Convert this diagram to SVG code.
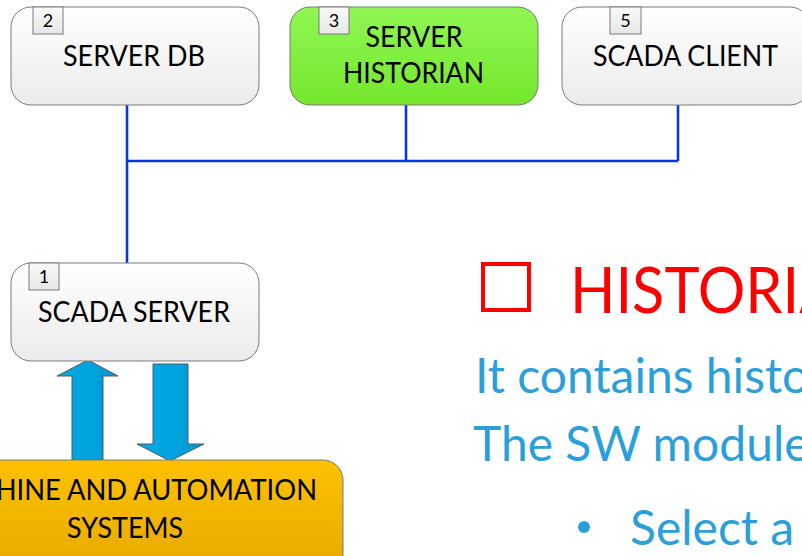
<svg xmlns="http://www.w3.org/2000/svg" width="802" height="556" viewBox="0 0 802 556">
  <defs>
    <linearGradient id="gWhite" x1="0" y1="0" x2="0" y2="1">
      <stop offset="0" stop-color="#ffffff"/>
      <stop offset="1" stop-color="#ebebeb"/>
    </linearGradient>
    <linearGradient id="gGreen" x1="0" y1="0" x2="0" y2="1">
      <stop offset="0" stop-color="#90f654"/>
      <stop offset="1" stop-color="#74e72c"/>
    </linearGradient>
    <linearGradient id="gGold" x1="0" y1="0" x2="0" y2="1">
      <stop offset="0" stop-color="#fdc100"/>
      <stop offset="1" stop-color="#e5a700"/>
    </linearGradient>
    <linearGradient id="gBadge" x1="0" y1="0" x2="0" y2="1">
      <stop offset="0" stop-color="#fafafa"/>
      <stop offset="1" stop-color="#e6e6e6"/>
    </linearGradient>
    <linearGradient id="gArrow" x1="0" y1="0" x2="1" y2="0">
      <stop offset="0" stop-color="#00a8e2"/>
      <stop offset="0.55" stop-color="#00a4de"/>
      <stop offset="1" stop-color="#0096cc"/>
    </linearGradient>
  </defs>
  <style>
    .box { stroke: #7a7a7a; stroke-width: 1; }
    .badge { fill: url(#gBadge); stroke: #7a7a7a; stroke-width: 1; }
    .num { font-family: Lato, "Open Sans", sans-serif; font-size: 18px; fill: #000; text-anchor: middle; }
    .lbl { font-family: Lato, "Open Sans", sans-serif; font-size: 28px; fill: #000; text-anchor: middle; }
    .wire { fill: none; stroke: #0a36d6; stroke-width: 2.6; }
    .arrow { fill: url(#gArrow); stroke: #4e5b63; stroke-width: 1; stroke-linejoin: miter; }
    .title { font-family: Lato, "Open Sans", sans-serif; font-size: 64px; fill: #ff0000; }
    .body { font-family: Lato, "Open Sans", sans-serif; font-size: 48px; fill: #2b9fd9; }
  </style>

  <!-- bus wiring between the servers -->
  <g id="connectors">
    <path class="wire" d="M127 105 V263"/>
    <path class="wire" d="M127 161 H678"/>
    <path class="wire" d="M406 105 V161"/>
    <path class="wire" d="M678 105 V161"/>
    <!-- data exchange arrows between field level and SCADA server -->
    <path class="arrow" d="M88 360 L118 376 L103 376 L103 460 L72 460 L72 376 L57 376 Z"/>
    <path class="arrow" d="M153 364 L188 364 L188 444 L204 444 L170 461 L137 444 L153 444 Z"/>
  </g>

  <g id="server-db">
    <rect class="box" x="11" y="7" width="248" height="98" rx="20" fill="url(#gWhite)"/>
    <rect class="badge" x="33" y="7" width="30" height="27"/>
    <text class="num" x="48" y="27">2</text>
    <text class="lbl" x="134" y="66" textLength="142" lengthAdjust="spacingAndGlyphs">SERVER DB</text>
  </g>

  <g id="server-historian">
    <rect class="box" x="290" y="7" width="248" height="98" rx="20" fill="url(#gGreen)"/>
    <rect class="badge" x="319" y="7" width="30" height="27"/>
    <text class="num" x="334" y="27">3</text>
    <text class="lbl" x="414" y="47" textLength="97" lengthAdjust="spacingAndGlyphs">SERVER</text>
    <text class="lbl" x="413.5" y="83" textLength="141" lengthAdjust="spacingAndGlyphs">HISTORIAN</text>
  </g>

  <g id="scada-client">
    <rect class="box" x="562" y="7" width="248" height="98" rx="20" fill="url(#gWhite)"/>
    <rect class="badge" x="610" y="7" width="31" height="27"/>
    <text class="num" x="625.5" y="27">5</text>
    <text class="lbl" x="685.5" y="66" textLength="185" lengthAdjust="spacingAndGlyphs">SCADA CLIENT</text>
  </g>

  <g id="scada-server">
    <rect class="box" x="11" y="263" width="248" height="98" rx="20" fill="url(#gWhite)"/>
    <rect class="badge" x="29" y="263" width="30" height="27"/>
    <text class="num" x="44" y="283">1</text>
    <text class="lbl" x="134" y="322" textLength="192" lengthAdjust="spacingAndGlyphs">SCADA SERVER</text>
  </g>

  <g id="machine-automation">
    <rect class="box" x="-93" y="460" width="436" height="120" rx="20" fill="url(#gGold)"/>
    <text class="lbl" x="125.5" y="500" textLength="383" lengthAdjust="spacingAndGlyphs">MACHINE AND AUTOMATION</text>
    <text class="lbl" x="125" y="538" textLength="116" lengthAdjust="spacingAndGlyphs">SYSTEMS</text>
  </g>

  <!-- slide text on the right -->
  <g id="notes">
    <rect x="483" y="264" width="46" height="46" fill="none" stroke="#ff0000" stroke-width="4"/>
    <text class="title" x="570" y="313" textLength="315" lengthAdjust="spacingAndGlyphs">HISTORIAN</text>
    <text class="body" x="475" y="393">It contains historical</text>
    <text class="body" x="473" y="461">The SW module</text>
    <circle cx="584" cy="527" r="6" fill="#2b9fd9"/>
    <text class="body" x="630" y="545">Select a</text>
  </g>
</svg>
